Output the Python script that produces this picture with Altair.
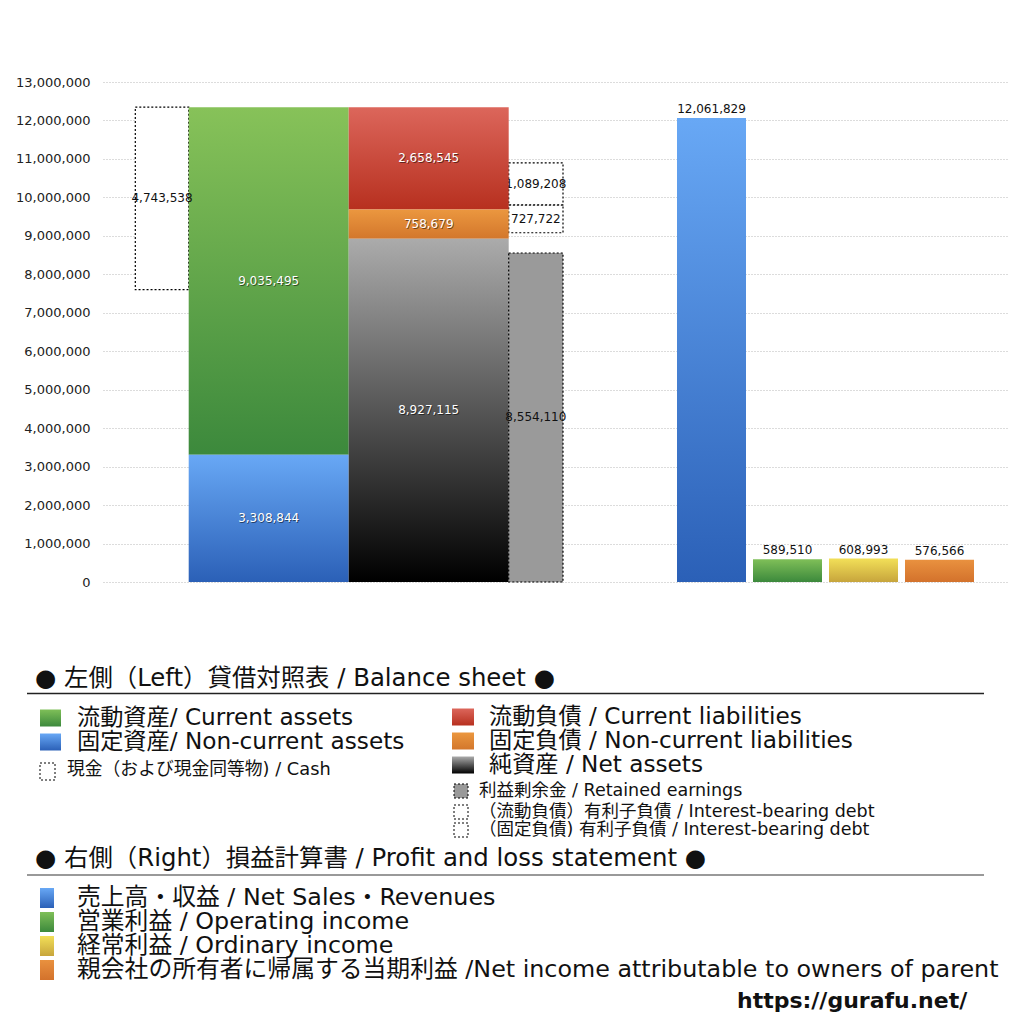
import altair as alt
import pandas as pd

# ---------------- values ----------------
bs_keys = ["current_assets", "noncurrent_assets", "cash",
           "current_liabilities", "noncurrent_liabilities", "net_assets",
           "retained_earnings", "ibd_current", "ibd_noncurrent"]
bs_values = [9035495, 3308844, 4743538, 2658545, 758679, 8927115,
             8554110, 1089208, 727722]
debt_base = 9080000          # bottom of the interest-bearing-debt boxes (estimated)

pl_keys = ["revenue", "operating_income", "ordinary_income", "net_income"]
pl_values = [12061829, 589510, 608993, 576566]

y_ticks = list(range(0, 13_000_001, 1_000_000))

heading_left = "● 左側（Left）貸借対照表 / Balance sheet ●"
heading_right = "● 右側（Right）損益計算書 / Profit and loss statement ●"
legend_left_big = ["流動資産/ Current assets", "固定資産/ Non-current assets"]
legend_cash = "現金（および現金同等物) / Cash"
legend_right_big = ["流動負債 /  Current liabilities",
                    "固定負債 / Non-current liabilities",
                    "純資産 / Net assets"]
legend_right_small = ["利益剰余金 / Retained earnings",
                      "（流動負債）有利子負債 / Interest-bearing debt",
                      "（固定負債) 有利子負債 / Interest-bearing debt"]
legend_pl = ["売上高・収益 / Net Sales・Revenues",
             "営業利益 / Operating income",
             "経常利益 / Ordinary income",
             "親会社の所有者に帰属する当期利益 /Net income attributable to owners of parent"]
url_text = "https://gurafu.net/"

FONT = "DejaVu Sans, Noto Sans CJK JP"

# ---------------- layout ----------------
# plot area on the page: x 101..1005, y 83..1001 ; bars use the top 500 px
PX0, PY0 = 101, 83
PLOT_W, PLOT_H = 904, 918
BAR_H = 500
Y_MAX = 13_000_000
Y_MIN = -Y_MAX * (PLOT_H - BAR_H) / BAR_H

slot_px = {"cash": (32.3, 85.7), "assets": (85.7, 245.7), "liab": (245.7, 405.7),
           "side": (405.7, 460.0), "rev": (574, 643), "op": (650, 719),
           "ord": (726, 795), "net": (802, 871)}
slot_of = {"cash": "cash", "current_assets": "assets", "noncurrent_assets": "assets",
           "net_assets": "liab", "noncurrent_liabilities": "liab",
           "current_liabilities": "liab", "retained_earnings": "side",
           "ibd_current": "side", "ibd_noncurrent": "side",
           "revenue": "rev", "operating_income": "op", "ordinary_income": "ord",
           "net_income": "net"}

# ---------------- stacking ----------------
v = dict(zip(bs_keys, bs_values))
total_assets = v["current_assets"] + v["noncurrent_assets"]
na, ncl = v["net_assets"], v["noncurrent_liabilities"]
spans = {
    "noncurrent_assets": (0, v["noncurrent_assets"]),
    "current_assets": (v["noncurrent_assets"], total_assets),
    "cash": (total_assets - v["cash"], total_assets),
    "net_assets": (0, na),
    "noncurrent_liabilities": (na, na + ncl),
    "current_liabilities": (na + ncl, na + ncl + v["current_liabilities"]),
    "retained_earnings": (0, v["retained_earnings"]),
    "ibd_noncurrent": (debt_base, debt_base + v["ibd_noncurrent"]),
    "ibd_current": (debt_base + v["ibd_noncurrent"],
                    debt_base + v["ibd_noncurrent"] + v["ibd_current"]),
}
values = dict(v)
for k, val in zip(pl_keys, pl_values):
    spans[k] = (0, val)
    values[k] = val

rows = []
for k, (a, b) in spans.items():
    x0, x1 = slot_px[slot_of[k]]
    rows.append({"key": k, "x0": x0, "x1": x1, "xc": (x0 + x1) / 2,
                 "y0": a, "y1": b, "yc": (a + b) / 2, "label": f"{values[k]:,}"})
df = pd.DataFrame(rows)


def grad(top, bottom):
    return alt.LinearGradient(gradient="linear", x1=0, x2=0, y1=0, y2=1,
                              stops=[alt.GradientStop(color=top, offset=0),
                                     alt.GradientStop(color=bottom, offset=1)])


fills = {
    "current_assets": grad("#87c259", "#3c893c"),
    "noncurrent_assets": grad("#68a8f5", "#2b60b7"),
    "current_liabilities": grad("#dc665b", "#b7301f"),
    "noncurrent_liabilities": grad("#eb973f", "#d3772c"),
    "net_assets": grad("#ababab", "#000000"),
    "revenue": grad("#68a8f5", "#2b60b7"),
    "operating_income": grad("#7fbf58", "#3c893c"),
    "ordinary_income": grad("#f2df58", "#c7a53c"),
    "net_income": grad("#e9913f", "#d3722c"),
}

xscale = alt.Scale(domain=[0, PLOT_W], nice=False, zero=False)
yscale = alt.Scale(domain=[Y_MIN, Y_MAX], nice=False, zero=False)
yaxis = alt.Axis(values=y_ticks, format=",d", labelFont=FONT, labelFontSize=13,
                 labelColor="#222", ticks=False, domain=False, labelPadding=13,
                 grid=True, gridDash=[1, 2], gridColor="#b8b8b8", gridWidth=1)


def X(f):
    return alt.X(f"{f}:Q", scale=xscale, axis=None)


def Y(f):
    return alt.Y(f"{f}:Q", scale=yscale, axis=yaxis, title=None)


base = alt.Chart(df)


def in_keys(keys):
    return alt.FieldOneOfPredicate(field="key", oneOf=keys)


layers = []
dash_keys = ["cash", "ibd_current", "ibd_noncurrent"]
debt_keys = ["ibd_current", "ibd_noncurrent"]
layers.append(base.transform_filter(in_keys(dash_keys)).mark_rect(
    fill="white", stroke="black", strokeDash=[2, 2], strokeWidth=1.2
).encode(x=X("x0"), x2="x1:Q", y=Y("y0"), y2="y1:Q"))
layers.append(base.transform_filter(in_keys(debt_keys)).mark_text(
    font=FONT, fontSize=12, color="#111"
).encode(x=X("xc"), y=Y("yc"), text="label:N"))

for k, f in fills.items():
    layers.append(base.transform_filter(alt.datum.key == k).mark_rect(fill=f)
                  .encode(x=X("x0"), x2="x1:Q", y=Y("y0"), y2="y1:Q"))

layers.append(base.transform_filter(alt.datum.key == "retained_earnings").mark_rect(
    fill="#9a9a9a", stroke="black", strokeDash=[2, 2], strokeWidth=1.2
).encode(x=X("x0"), x2="x1:Q", y=Y("y0"), y2="y1:Q"))

white_keys = ["current_assets", "noncurrent_assets", "current_liabilities",
              "noncurrent_liabilities", "net_assets"]
layers.append(base.transform_filter(in_keys(white_keys)).mark_text(
    font=FONT, fontSize=12, color="#000", opacity=0.5, dx=0.8, dy=0.9
).encode(x=X("xc"), y=Y("yc"), text="label:N"))
layers.append(base.transform_filter(in_keys(white_keys)).mark_text(
    font=FONT, fontSize=12, color="white"
).encode(x=X("xc"), y=Y("yc"), text="label:N"))
layers.append(base.transform_filter(in_keys(["retained_earnings", "cash"])).mark_text(
    font=FONT, fontSize=12, color="#111"
).encode(x=X("xc"), y=Y("yc"), text="label:N"))
layers.append(base.transform_filter(in_keys(pl_keys)).mark_text(
    font=FONT, fontSize=12, color="#111", baseline="bottom", dy=-2
).encode(x=X("xc"), y=Y("y1"), text="label:N"))

bars = alt.layer(*layers)

# ---------------- legend (page-pixel layout, own scales) ----------------
lx = alt.Scale(domain=[PX0, PX0 + PLOT_W], nice=False, zero=False)
ly = alt.Scale(domain=[PY0, PY0 + PLOT_H], nice=False, zero=False, reverse=True)

sq_rows, tx_rows = [], []
left_big_fills = [grad("#7fbf58", "#3c893c"), grad("#68a8f5", "#2b60b7")]
for i, t in enumerate(legend_left_big):
    yy = 719 + 24 * i
    sq_rows.append(dict(x0=38, x1=59, y0=yy - 8.5, y1=yy + 8.5, fill=left_big_fills[i], dash=False))
    tx_rows.append(dict(x=75, y=yy, text=t, size=23.2))
sq_rows.append(dict(x0=38, x1=53, y0=764, y1=781, fill="white", dash=True))
tx_rows.append(dict(x=65, y=771, text=legend_cash, size=17.8))

right_big_fills = [grad("#dc665b", "#b7301f"), grad("#eb973f", "#d3772c"),
                   grad("#ababab", "#000000")]
for i, t in enumerate(legend_right_big):
    yy = 718 + 24 * i
    sq_rows.append(dict(x0=450, x1=472, y0=yy - 8.5, y1=yy + 8.5, fill=right_big_fills[i], dash=False))
    tx_rows.append(dict(x=487, y=yy, text=t, size=23.2))
right_small_fills = ["#9a9a9a", "white", "white"]
for i, (t, yy) in enumerate(zip(legend_right_small, [792, 813, 831])):
    sq_rows.append(dict(x0=452, x1=466, y0=yy - 7, y1=yy + 7, fill=right_small_fills[i], dash=True))
    tx_rows.append(dict(x=477, y=yy, text=t, size=17.5))

pl_fills = [grad("#68a8f5", "#2b60b7"), grad("#7fbf58", "#3c893c"),
            grad("#f2df58", "#c7a53c"), grad("#e9913f", "#d3722c")]
for i, t in enumerate(legend_pl):
    yy = 899 + 24 * i
    sq_rows.append(dict(x0=38, x1=52, y0=yy - 10, y1=yy + 10, fill=pl_fills[i], dash=False))
    tx_rows.append(dict(x=75, y=yy, text=t, size=23.8))

tx_rows.append(dict(x=33, y=680, text=heading_left, size=24.4))
tx_rows.append(dict(x=33, y=860, text=heading_right, size=24.4))

leg_layers = []
for s in sq_rows:
    d = pd.DataFrame([{"x0": s["x0"], "x1": s["x1"], "y0": s["y0"], "y1": s["y1"]}])
    kw = dict(fill=s["fill"])
    if s["dash"]:
        kw.update(stroke="black", strokeDash=[2, 2], strokeWidth=1)
    leg_layers.append(alt.Chart(d).mark_rect(**kw).encode(
        x=alt.X("x0:Q", scale=lx, axis=None), x2="x1:Q",
        y=alt.Y("y0:Q", scale=ly, axis=None), y2="y1:Q"))

tx_df = pd.DataFrame(tx_rows)
leg_layers.append(alt.Chart(tx_df).mark_text(
    font=FONT, align="left", baseline="middle", color="#111"
).encode(x=alt.X("x:Q", scale=lx, axis=None), y=alt.Y("y:Q", scale=ly, axis=None),
         text="text:N", size=alt.Size("size:Q", scale=None, legend=None)))

rule_df = pd.DataFrame([{"x0": 25, "x1": 982, "y": 694.5, "c": "#222"},
                        {"x0": 25, "x1": 982, "y": 876.0, "c": "#777"}])
leg_layers.append(alt.Chart(rule_df).mark_rule(strokeWidth=1.5).encode(
    x=alt.X("x0:Q", scale=lx, axis=None), x2="x1:Q",
    y=alt.Y("y:Q", scale=ly, axis=None),
    color=alt.Color("c:N", scale=None, legend=None)))

url_df = pd.DataFrame([{"x": 735, "y": 1002, "text": url_text}])
leg_layers.append(alt.Chart(url_df).mark_text(
    font=FONT, fontSize=22, fontWeight="bold", align="left", baseline="middle", color="#111"
).encode(x=alt.X("x:Q", scale=lx, axis=None), y=alt.Y("y:Q", scale=ly, axis=None),
         text="text:N"))

legend = alt.layer(*leg_layers)

chart = alt.layer(bars, legend).resolve_scale(
    x="independent", y="independent"
).properties(
    width=PLOT_W, height=PLOT_H, background="white",
    padding={"left": 7, "top": 68, "right": 5, "bottom": 0}
).configure_view(stroke="transparent", strokeWidth=0)

chart.save("out.html", embed_options={"renderer": "svg", "actions": False})
